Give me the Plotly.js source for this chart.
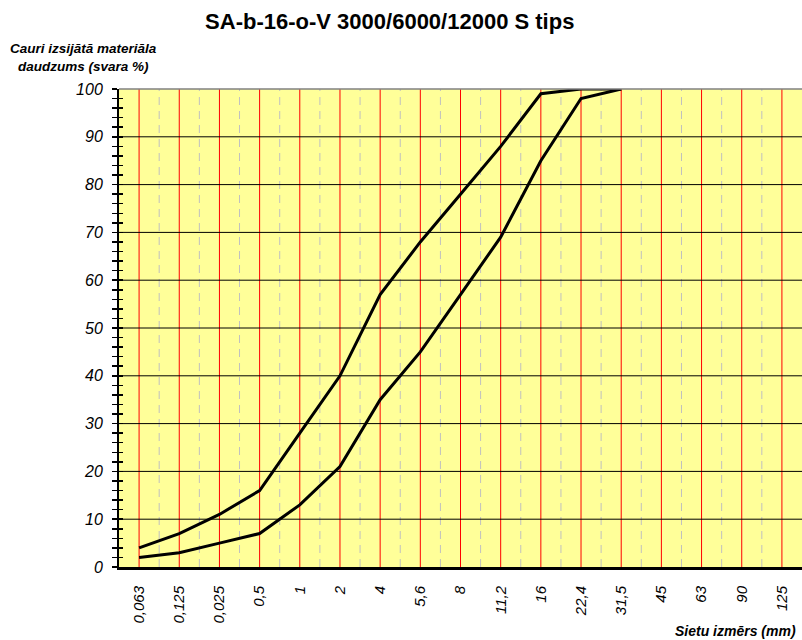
<!DOCTYPE html>
<html>
<head>
<meta charset="utf-8">
<script src="https://cdn.plot.ly/plotly-3.0.1.min.js"></script>
<style>html,body{margin:0;padding:0;background:#fff}#chart{width:802px;height:640px}</style>
</head>
<body>
<div id="chart"></div>
<script>
const sieveLabels = ["0,063","0,125","0,025","0,5","1","2","4","5,6","8","11,2","16","22,4","31,5","45","63","90","125"];
const upperCurve = [4, 7, 11, 16, 28, 40, 57, 68, 78, 88, 99, 100, 100];
const lowerCurve = [2, 3, 5, 7, 13, 21, 35, 45, 57, 69, 85, 98, 100];
const yTickVals = [0,10,20,30,40,50,60,70,80,90,100];

const idx = sieveLabels.map((_, i) => i);
const halfIdx = idx.slice(0, -1).map(i => i + 0.5);
const F = "Liberation Sans, Arial, sans-serif";

const traces = [
  {x: idx.slice(0, upperCurve.length), y: upperCurve, type: 'scatter', mode: 'lines',
   line: {color: '#000', width: 3}, xaxis: 'x', yaxis: 'y', hoverinfo: 'skip'},
  {x: idx.slice(0, lowerCurve.length), y: lowerCurve, type: 'scatter', mode: 'lines',
   line: {color: '#000', width: 3}, xaxis: 'x', yaxis: 'y2', hoverinfo: 'skip'}
];

const vShapes = [];
halfIdx.forEach(v => vShapes.push({type: 'line', xref: 'x', yref: 'paper', x0: v, x1: v, y0: 0, y1: 1,
  line: {color: '#c0c0c0', width: 1, dash: '8px,6px'}, layer: 'below'}));
idx.forEach(v => vShapes.push({type: 'line', xref: 'x', yref: 'paper', x0: v, x1: v, y0: 0, y1: 1,
  line: {color: '#ff0000', width: 1}, layer: 'below'}));
yTickVals.slice(1, -1).forEach(v => vShapes.push({type: 'line', xref: 'paper', yref: 'y', x0: 0, x1: 1, y0: v, y1: v,
  line: {color: '#000', width: 1}, layer: 'below'}));
vShapes.push({type: 'line', xref: 'paper', yref: 'paper', x0: 0, x1: 1, y0: 1, y1: 1, line: {color: '#808080', width: 1.5}, layer: 'above'});

const layout = {
  width: 802, height: 640,
  margin: {l: 119, r: 0, t: 89, b: 73},
  paper_bgcolor: '#fff', plot_bgcolor: '#ffff99',
  showlegend: false,
  title: {text: 'SA-b-16-o-V 3000/6000/12000 S tips', font: {family: F, size: 22, color: '#000', weight: 'bold'},
          x: 0.486, xanchor: 'center', xref: 'container', y: 0.966, yanchor: 'middle', yref: 'container'},
  xaxis: {
    range: [-0.5, 16.5], tickmode: 'array', tickvals: idx, ticktext: sieveLabels,
    tickangle: -90, tickfont: {family: F, size: 15, color: '#000', style: 'italic'},
    showgrid: false,
    ticks: '', ticklabelstandoff: 10,
    showline: true, linecolor: '#000', linewidth: 3, zeroline: false
  },
  yaxis: {
    range: [0, 100], tickmode: 'array', tickvals: yTickVals,
    tickfont: {family: F, size: 16, color: '#000', style: 'italic'},
    showgrid: false,
    ticks: 'outside', ticklen: 5, tickcolor: '#000', tickwidth: 1.5, ticklabelstandoff: 6,
    showline: true, linecolor: '#000', linewidth: 2, zeroline: false,
    minor: {dtick: 2, ticks: 'outside', ticklen: 5, tickcolor: '#000', tickwidth: 1.5, showgrid: false}
  },
  yaxis2: {
    overlaying: 'y', side: 'left', range: [0, 100], tickmode: 'array', tickvals: yTickVals,
    showticklabels: false, showgrid: false, zeroline: false, showline: false,
    ticks: 'inside', ticklen: 4, tickcolor: '#000', tickwidth: 1.5,
    minor: {dtick: 2, ticks: 'inside', ticklen: 4, tickcolor: '#000', tickwidth: 1.5, showgrid: false}
  },
  shapes: vShapes,
  annotations: [
    {text: 'Cauri izsijātā materiāla<br>daudzums (svara %)', xref: 'paper', yref: 'paper',
     x: (83 - 119) / 683, xanchor: 'center', y: 1, yanchor: 'bottom', yshift: 13, showarrow: false,
     font: {family: F, size: 13.5, color: '#000', style: 'italic', weight: 'bold'}, align: 'center'},
    {text: 'Sietu izmērs (mm)', xref: 'paper', yref: 'paper', x: 1, xanchor: 'right', y: 0, yanchor: 'top',
     yshift: -54, xshift: -4, showarrow: false,
     font: {family: F, size: 14, color: '#000', style: 'italic', weight: 'bold'}}
  ]
};

Plotly.newPlot('chart', traces, layout, {staticPlot: true});
</script>
</body>
</html>
